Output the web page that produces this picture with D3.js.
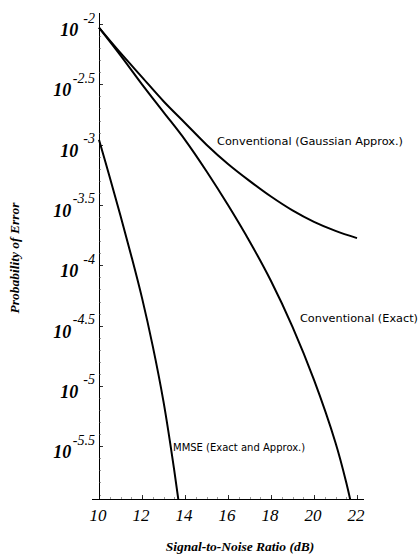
<!DOCTYPE html>
<html><head><meta charset="utf-8">
<script src="https://cdn.jsdelivr.net/npm/d3@7"></script>
<style>
html,body{margin:0;padding:0;background:#fff;}
svg{display:block;}
</style></head>
<body>
<svg id="chart" width="419" height="557"></svg>
<script>
// ---- data (x = SNR in dB, y = log10 of probability of error) ----
const snrGauss = [10, 11, 12, 13, 14, 15, 16, 17, 18, 19, 20, 21, 22];
const logPeGauss = [-2.03, -2.24, -2.44, -2.64, -2.82, -3.00, -3.16, -3.30, -3.43, -3.545, -3.64, -3.715, -3.775];

const snrExact = [10, 11, 12, 13, 14, 15, 16, 17, 18, 19, 20, 21, 21.5, 22];
const logPeExact = [-2.03, -2.26, -2.50, -2.73, -2.96, -3.22, -3.50, -3.80, -4.13, -4.51, -4.95, -5.47, -5.80, -6.2];

const snrMMSE = [10, 10.5, 11, 11.5, 12, 12.5, 13, 13.5, 14];
const logPeMMSE = [-2.96, -3.27, -3.59, -3.92, -4.27, -4.67, -5.13, -5.70, -6.35];

const xTicks = [10, 12, 14, 16, 18, 20, 22];
const xTickLabels = ["10", "12", "14", "16", "18", "20", "22"];
const yTicks = [-2, -2.5, -3, -3.5, -4, -4.5, -5, -5.5];
const yExpLabels = ["-2", "-2.5", "-3", "-3.5", "-4", "-4.5", "-5", "-5.5"];

const curveLabels = ["Conventional (Gaussian Approx.)", "Conventional (Exact)", "MMSE (Exact and Approx.)"];
const xTitle = "Signal-to-Noise Ratio (dB)";
const yTitle = "Probability of Error";

// ---- scales ----
const xMin = 9.674, xMax = 22.326;
const yMin = -5.94, yMax = -1.91;
const x = d3.scaleLinear().domain([10, 22]).range([99, 357]);
const y = d3.scaleLinear().domain([-2, -5.5]).range([24, 446.3]);

const svg = d3.select("#chart");
const serif = "'Liberation Serif','Times New Roman',serif";
const sans = "'DejaVu Sans',Verdana,sans-serif";

// clip to plot area
svg.append("defs").append("clipPath").attr("id", "plotclip")
  .append("rect")
  .attr("x", x(xMin)).attr("y", y(yMax))
  .attr("width", x(xMax) - x(xMin))
  .attr("height", y(yMin) - y(yMax));

// ---- axes ----
const ax = svg.append("g").attr("stroke", "#000").attr("fill", "none").attr("shape-rendering", "crispEdges");
ax.append("line").attr("x1", x(10)).attr("x2", x(10)).attr("y1", y(yMax)).attr("y2", y(yMin)).attr("stroke-width", 1);
ax.append("line").attr("x1", x(xMin)).attr("x2", x(xMax)).attr("y1", y(yMin)).attr("y2", y(yMin)).attr("stroke-width", 1);

// y minor ticks (every 0.1 decade) and major ticks
const yMinor = d3.range(-2, -5.95, -0.1);
ax.selectAll(".ymin").data(yMinor).enter().append("line")
  .attr("x1", x(10)).attr("x2", x(10) + 2)
  .attr("y1", d => Math.round(y(d)) + 0.5).attr("y2", d => Math.round(y(d)) + 0.5)
  .attr("stroke-width", 0.6).attr("stroke", "#555");
ax.selectAll(".ymaj").data(yTicks).enter().append("line")
  .attr("x1", x(10)).attr("x2", x(10) + 4)
  .attr("y1", d => Math.round(y(d)) + 0.5).attr("y2", d => Math.round(y(d)) + 0.5)
  .attr("stroke-width", 0.8);

// x minor ticks (every 0.5 dB) and major ticks
const xMinor = d3.range(10, 22.01, 0.5);
ax.selectAll(".xmin").data(xMinor).enter().append("line")
  .attr("x1", d => Math.round(x(d)) + 0.5).attr("x2", d => Math.round(x(d)) + 0.5)
  .attr("y1", y(yMin)).attr("y2", y(yMin) - 2)
  .attr("stroke-width", 0.6).attr("stroke", "#555");
ax.selectAll(".xmaj").data(xTicks).enter().append("line")
  .attr("x1", d => Math.round(x(d)) + 0.5).attr("x2", d => Math.round(x(d)) + 0.5)
  .attr("y1", y(yMin)).attr("y2", y(yMin) - 4)
  .attr("stroke-width", 0.8);

// ---- x tick labels ----
svg.selectAll(".xlab").data(xTicks).enter().append("text")
  .attr("x", d => x(d) - 1).attr("y", 521)
  .attr("text-anchor", "middle")
  .attr("font-family", serif).attr("font-style", "italic")
  .attr("font-size", 17)
  .text((d, i) => xTickLabels[i]);

// ---- y tick labels: 10^exp ----
yTicks.forEach((t, i) => {
  const ty = y(t);
  const g = svg.append("g");
  const ex = g.append("text")
    .attr("x", 95).attr("y", ty - 1.5)
    .attr("text-anchor", "end")
    .attr("font-family", serif).attr("font-style", "italic")
    .attr("font-size", 14)
    .text(yExpLabels[i]);
  const w = ex.node().getComputedTextLength();
  const gap = yExpLabels[i].includes(".") ? 1.5 : 5;
  g.append("text")
    .attr("x", 95 - w - gap).attr("y", ty + 12)
    .attr("text-anchor", "end")
    .attr("font-family", serif).attr("font-style", "italic").attr("font-weight", "bold")
    .attr("font-size", 18)
    .text("10");
});

// ---- curves ----
const line = d3.line().x(d => x(d[0])).y(d => y(d[1])).curve(d3.curveCatmullRom.alpha(0.5));
const series = [
  d3.zip(snrGauss, logPeGauss),
  d3.zip(snrExact, logPeExact),
  d3.zip(snrMMSE, logPeMMSE)
];
svg.append("g").attr("clip-path", "url(#plotclip)")
  .selectAll("path").data(series).enter().append("path")
  .attr("d", line)
  .attr("fill", "none").attr("stroke", "#000")
  .attr("stroke-width", 2).attr("stroke-linejoin", "round");

// ---- curve labels ----
svg.append("text").attr("x", 217).attr("y", 145)
  .attr("font-family", sans).attr("font-size", 10)
  .attr("textLength", 186).attr("lengthAdjust", "spacingAndGlyphs")
  .text(curveLabels[0]);
svg.append("text").attr("x", 300).attr("y", 322)
  .attr("font-family", sans).attr("font-size", 10)
  .attr("textLength", 118).attr("lengthAdjust", "spacingAndGlyphs")
  .text(curveLabels[1]);
svg.append("text").attr("x", 173).attr("y", 451)
  .attr("font-family", sans).attr("font-size", 10)
  .text(curveLabels[2]);

// ---- axis titles ----
svg.append("text").attr("x", 240).attr("y", 551)
  .attr("text-anchor", "middle")
  .attr("font-family", serif).attr("font-style", "italic").attr("font-weight", "bold")
  .attr("font-size", 13.5)
  .text(xTitle);
svg.append("text")
  .attr("transform", "translate(19,258) rotate(-90)")
  .attr("text-anchor", "middle")
  .attr("font-family", serif).attr("font-style", "italic").attr("font-weight", "bold")
  .attr("font-size", 13.5)
  .text(yTitle);
</script>
</body></html>
